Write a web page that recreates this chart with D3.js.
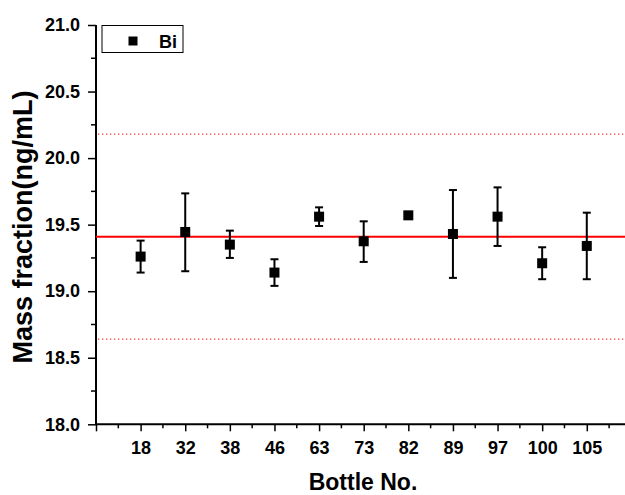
<!DOCTYPE html>
<html>
<head>
<meta charset="utf-8">
<script src="https://cdn.jsdelivr.net/npm/d3@7"></script>
<style>
  body { margin: 0; background: #fff; }
  text { font-family: "Liberation Sans", Arial, sans-serif; font-weight: bold; }
</style>
</head>
<body>
<script>
/*** data ***/
const bottles = ["18", "32", "38", "46", "63", "73", "82", "89", "97", "100", "105"];
const values  = [19.26, 19.445, 19.35, 19.14, 19.56, 19.375, 19.57, 19.43, 19.56, 19.21, 19.34];
const errLow  = [19.14, 19.15, 19.25, 19.04, 19.49, 19.22, 19.57, 19.10, 19.34, 19.09, 19.09];
const errHigh = [19.38, 19.735, 19.455, 19.24, 19.63, 19.525, 19.57, 19.76, 19.78, 19.33, 19.59];
const meanLine = 19.41;
const limits = [20.18, 18.64];
const yTicks = [18.0, 18.5, 19.0, 19.5, 20.0, 20.5, 21.0];

const width = 625, height = 495;
const margin = { left: 96, top: 25 };

const svg = d3.select("body").append("svg")
  .attr("width", width)
  .attr("height", height);

// x: bottle index, 0..12 (the right end runs off the picture)
const x = d3.scaleLinear().domain([0, 12]).range([96, 631.4]);
const y = d3.scaleLinear().domain([18, 21]).range([424.3, 25]);

/*** axes ***/
const yAxis = d3.axisLeft(y).tickValues(yTicks).tickFormat(d3.format(".1f")).tickSize(8).tickPadding(8);
const gy = svg.append("g").attr("transform", `translate(${margin.left},0)`).call(yAxis);
gy.select(".domain").attr("stroke-width", 2).attr("d", `M0,${y(18)}V${y(21)}`);
gy.selectAll(".tick line").attr("stroke-width", 1.5);
gy.selectAll(".tick text").attr("font-size", 18).attr("fill", "#000");

// y minor ticks
gy.selectAll(".minor")
  .data(d3.range(18.25, 21, 0.5))
  .join("line")
  .attr("x1", -5).attr("x2", 0)
  .attr("y1", d => y(d)).attr("y2", d => y(d))
  .attr("stroke", "#000").attr("stroke-width", 1.5);

const xAxis = d3.axisBottom(x)
  .tickValues(d3.range(0, 12))
  .tickFormat(i => i === 0 ? "" : bottles[i - 1])
  .tickSize(7).tickPadding(10);
const gx = svg.append("g").attr("transform", `translate(0,${y(18)})`).call(xAxis);
gx.select(".domain").attr("stroke-width", 2).attr("d", `M${x(0)},0H${width}`);
gx.selectAll(".tick line").attr("stroke-width", 1.5);
gx.selectAll(".tick text").attr("font-size", 18).attr("fill", "#000");

// x minor ticks
gx.selectAll(".minor")
  .data(d3.range(0.5, 12, 1))
  .join("line")
  .attr("x1", d => x(d)).attr("x2", d => x(d))
  .attr("y1", 0).attr("y2", 4)
  .attr("stroke", "#000").attr("stroke-width", 1.5);

/*** axis titles ***/
svg.append("text")
  .attr("transform", "translate(32,227) rotate(-90)")
  .attr("text-anchor", "middle")
  .attr("font-size", 27)
  .text("Mass fraction(ng/mL)");

svg.append("text")
  .attr("x", 363).attr("y", 490)
  .attr("text-anchor", "middle")
  .attr("font-size", 23)
  .text("Bottle No.");

/*** reference lines ***/
svg.append("line")
  .attr("x1", x(0)).attr("x2", width)
  .attr("y1", y(meanLine)).attr("y2", y(meanLine))
  .attr("stroke", "#f00").attr("stroke-width", 2);

svg.selectAll(".limit")
  .data(limits)
  .join("line")
  .attr("x1", x(0) + 2).attr("x2", width)
  .attr("y1", d => y(d)).attr("y2", d => y(d))
  .attr("stroke", "#f00").attr("stroke-width", 1)
  .attr("stroke-dasharray", "1.3,2.7");

/*** error bars and points ***/
const pts = bottles.map((b, i) => ({ b, i: i + 1, v: values[i], lo: errLow[i], hi: errHigh[i] }));

const eb = svg.append("g").attr("stroke", "#000").attr("stroke-width", 2);
pts.filter(d => d.hi > d.lo).forEach(d => {
  eb.append("line").attr("x1", x(d.i)).attr("x2", x(d.i)).attr("y1", y(d.lo)).attr("y2", y(d.hi));
  eb.append("line").attr("x1", x(d.i) - 4).attr("x2", x(d.i) + 4).attr("y1", y(d.lo)).attr("y2", y(d.lo));
  eb.append("line").attr("x1", x(d.i) - 4).attr("x2", x(d.i) + 4).attr("y1", y(d.hi)).attr("y2", y(d.hi));
});

svg.append("g")
  .selectAll("rect")
  .data(pts)
  .join("rect")
  .attr("x", d => x(d.i) - 5)
  .attr("y", d => y(d.v) - 5)
  .attr("width", 10).attr("height", 10)
  .attr("fill", "#000");

/*** legend ***/
const lg = svg.append("g");
lg.append("rect")
  .attr("x", 102).attr("y", 25.5)
  .attr("width", 81).attr("height", 27)
  .attr("fill", "#fff").attr("stroke", "#000").attr("stroke-width", 1);
lg.append("rect")
  .attr("x", 128.5).attr("y", 36.5)
  .attr("width", 9).attr("height", 9)
  .attr("fill", "#000");
lg.append("text")
  .attr("x", 159).attr("y", 47.5)
  .attr("font-size", 18)
  .text("Bi");
</script>
</body>
</html>
